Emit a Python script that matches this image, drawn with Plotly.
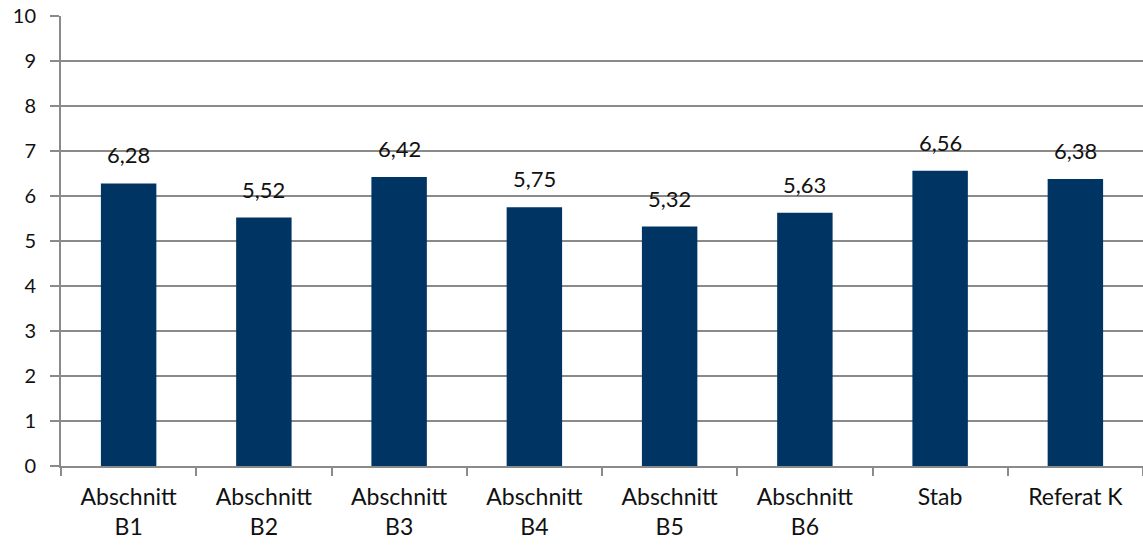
import plotly.graph_objects as go

categories = ["Abschnitt<br>B1", "Abschnitt<br>B2", "Abschnitt<br>B3", "Abschnitt<br>B4",
              "Abschnitt<br>B5", "Abschnitt<br>B6", "Stab", "Referat K"]
values = [6.28, 5.52, 6.42, 5.75, 5.32, 5.63, 6.56, 6.38]
y_ticks = [0, 1, 2, 3, 4, 5, 6, 7, 8, 9, 10]

BAR = "#003462"
GRID = "#8a8a8a"
FONT = "Lato"
TEXT = "#111111"

fig = go.Figure(go.Bar(x=categories, y=values, marker=dict(color=BAR, line=dict(width=0)),
                       width=0.41))

# value labels above each bar, with decimal comma
for c, v in zip(categories, values):
    fig.add_annotation(x=c, y=v, text=f"{v:.2f}".replace(".", ","), showarrow=False,
                       yanchor="bottom", yshift=13,
                       font=dict(family=FONT, size=22, color=TEXT))

fig.update_layout(
    width=1143, height=550,
    margin=dict(l=61, r=0, t=16, b=84),
    plot_bgcolor="white", paper_bgcolor="white",
    showlegend=False,
    font=dict(family=FONT, size=22, color=TEXT),
    bargap=0.59,
)
fig.update_xaxes(
    showline=True, linecolor=GRID, linewidth=2,
    ticks="outside", tickson="boundaries", ticklen=8, tickcolor=GRID, tickwidth=1.5,
    ticklabelstandoff=9,
    showgrid=False, tickfont=dict(family=FONT, size=23, color=TEXT),
)
fig.update_yaxes(
    range=[0, 10], tickvals=y_ticks, ticktext=[str(t) for t in y_ticks],
    showline=True, linecolor=GRID, linewidth=2,
    showgrid=True, gridcolor=GRID, gridwidth=1.5,
    ticks="outside", ticklen=9, tickcolor=GRID, tickwidth=1.5,
    ticklabelstandoff=10,
    zeroline=False, tickfont=dict(family=FONT, size=20, color=TEXT),
)

fig.write_html("out.html")
